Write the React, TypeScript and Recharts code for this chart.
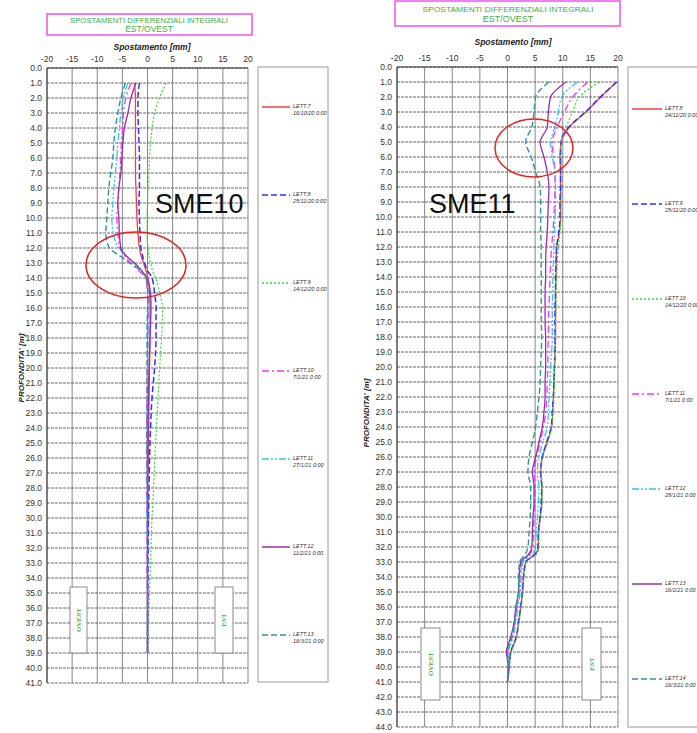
import React from 'react';
import { CartesianGrid, Line, LineChart, XAxis, YAxis } from 'recharts';

const X_TICKS = [-20, -15, -10, -5, 0, 5, 10, 15, 20];

// SME10 - readings
const SME10_NAMES = ['LETT.7', 'LETT.8', 'LETT.9', 'LETT.10', 'LETT.11', 'LETT.12', 'LETT.13'];
const SME10_DATES = ['16/10/20 0:00', '25/11/20 0:00', '14/12/20 0:00', '7/1/21 0:00', '27/1/21 0:00', '11/2/21 0:00', '16/3/21 0:00'];
const SME10_DEPTHS = [1, 2, 3, 4, 5, 6, 7, 8, 9, 10, 11, 12, 12.5, 13, 13.5, 14, 15, 16, 18, 20, 22, 25, 28, 30, 33, 36, 39];
const SME10_LETT7 = [-2.6, -2.4, -2.4, -2.4, -2.4, -2.4, -2.4, -2.3, -2.2, -2.1, -1.9, -1.6, -1.3, -0.8, -0.3, 0.1, 0.4, 0.5, 0.5, 0.4, 0.3, 0.2, 0.1, 0.1, 0.0, 0.0, 0.0];
const SME10_LETT8 = [-1.6, -1.9, -1.9, -1.8, -1.7, -1.6, -1.6, -1.6, -1.7, -1.6, -1.5, -1.3, -1.0, -0.6, 0.0, 0.9, 1.4, 1.7, 1.7, 1.4, 0.9, 0.5, 0.3, 0.2, 0.1, 0.05, 0.0];
const SME10_LETT9 = [3.7, 2.4, 1.4, 0.9, 0.6, 0.4, 0.3, 0.1, 0.0, -0.1, -0.1, 0.1, 0.3, 0.6, 1.0, 1.6, 2.4, 3.0, 2.8, 2.4, 2.1, 1.6, 1.2, 0.9, 0.6, 0.3, 0.1];
const SME10_LETT10 = [-3.3, -4.3, -4.8, -4.9, -5.2, -5.3, -5.5, -5.7, -5.9, -6.1, -5.9, -5.5, -4.6, -3.3, -1.8, -0.4, 0.0, 0.2, 0.1, 0.0, -0.1, -0.2, -0.2, -0.1, -0.1, 0.0, 0.0];
const SME10_LETT11 = [-3.9, -4.8, -5.3, -5.6, -5.9, -6.1, -6.4, -6.7, -6.9, -7.1, -6.8, -5.7, -4.3, -2.6, -1.2, -0.3, 0.0, 0.1, 0.1, 0.0, 0.0, -0.1, -0.1, -0.1, 0.0, 0.0, 0.0];
const SME10_LETT12 = [-2.3, -3.3, -3.9, -4.6, -4.9, -5.1, -5.3, -5.7, -5.9, -5.7, -5.6, -5.3, -4.3, -2.6, -1.2, -0.1, 0.6, 0.7, 0.5, 0.3, 0.2, 0.1, 0.0, 0.0, 0.0, 0.0, 0.0];
const SME10_LETT13 = [-4.4, -5.3, -5.9, -6.4, -6.7, -6.9, -7.3, -7.7, -7.9, -8.1, -8.3, -7.6, -5.6, -3.5, -1.4, -0.3, 0.1, 0.0, -0.1, -0.1, -0.1, -0.1, 0.0, 0.0, 0.0, 0.0, 0.0];

// SME11 - readings
const SME11_NAMES = ['LETT.8', 'LETT.9', 'LETT.10', 'LETT.11', 'LETT.12', 'LETT.13', 'LETT.14'];
const SME11_DATES = ['24/11/20 0:00', '25/11/20 0:00', '14/12/20 0:00', '7/1/21 0:00', '28/1/21 0:00', '16/2/21 0:00', '16/3/21 0:00'];
const SME11_DEPTHS = [1, 2, 3, 4, 5, 6, 7, 8, 9, 10, 11, 12, 13, 14, 15, 16, 17, 18, 19, 20, 21, 22, 23, 24, 25, 26, 27, 28, 29, 30, 31, 32, 32.5, 33, 34, 35, 36, 37, 38, 39, 40, 41];
const SME11_LETT8 = [19.7, 16.9, 14.2, 11.2, 9.7, 9.5, 9.6, 9.6, 9.6, 9.6, 9.4, 8.9, 8.8, 8.8, 8.7, 8.7, 8.7, 8.7, 8.6, 8.5, 8.4, 8.3, 8.2, 8.0, 7.2, 6.3, 6.0, 6.2, 6.2, 5.9, 5.6, 5.6, 5.0, 3.3, 2.9, 2.7, 2.4, 2.0, 1.6, 0.6, 0.3, 0.0];
const SME11_LETT9 = [19.8, 16.8, 14.1, 11.1, 9.7, 9.6, 9.6, 9.6, 9.5, 9.5, 9.3, 8.9, 8.8, 8.7, 8.7, 8.6, 8.6, 8.6, 8.6, 8.5, 8.4, 8.3, 8.1, 7.9, 7.1, 6.3, 6.0, 6.2, 6.1, 5.9, 5.6, 5.5, 4.9, 3.3, 2.9, 2.7, 2.4, 2.0, 1.6, 0.6, 0.3, 0.0];
const SME11_LETT10 = [16.6, 13.0, 11.8, 10.6, 9.7, 9.7, 9.8, 9.8, 9.7, 9.7, 9.5, 9.2, 9.0, 8.9, 8.8, 8.8, 8.7, 8.7, 8.6, 8.5, 8.5, 8.4, 8.2, 8.0, 7.3, 6.4, 6.1, 6.3, 6.3, 6.0, 5.7, 5.7, 5.2, 3.5, 3.0, 2.8, 2.5, 2.1, 1.7, 0.7, 0.3, 0.0];
const SME11_LETT11 = [14.5, 11.8, 10.3, 9.0, 8.1, 8.3, 8.6, 8.6, 8.5, 8.4, 8.2, 8.0, 7.8, 7.7, 7.6, 7.5, 7.4, 7.4, 7.3, 7.3, 7.2, 7.1, 6.9, 6.5, 5.9, 5.3, 4.8, 5.0, 5.0, 4.8, 4.7, 4.6, 4.0, 2.6, 2.3, 2.1, 1.7, 1.3, 0.8, 0.0, 0.2, 0.0];
const SME11_LETT12 = [12.7, 9.8, 9.2, 8.6, 7.8, 8.1, 8.6, 8.7, 8.7, 8.6, 8.5, 8.4, 8.3, 8.2, 8.2, 8.1, 8.1, 8.1, 8.0, 7.8, 7.7, 7.5, 7.4, 7.2, 6.4, 5.7, 5.4, 5.7, 5.6, 5.4, 5.2, 5.1, 4.4, 2.8, 2.5, 2.3, 1.9, 1.5, 1.0, 0.2, 0.2, 0.0];
const SME11_LETT13 = [10.6, 7.8, 7.4, 7.2, 5.9, 6.6, 7.2, 7.5, 7.4, 7.3, 7.2, 7.0, 6.9, 6.9, 6.8, 6.8, 6.8, 6.9, 6.9, 6.9, 6.8, 6.8, 6.6, 6.3, 5.7, 5.1, 4.5, 4.8, 4.8, 4.6, 4.5, 4.4, 3.8, 2.4, 2.1, 2.0, 1.5, 1.2, 0.6, -0.2, 0.2, 0.0];
const SME11_LETT14 = [7.5, 5.1, 4.8, 4.4, 3.3, 4.3, 5.1, 5.9, 6.0, 6.0, 6.0, 6.1, 6.1, 6.1, 6.1, 6.1, 6.1, 6.2, 6.1, 6.0, 5.9, 5.7, 5.4, 5.1, 4.5, 3.9, 3.7, 4.2, 4.2, 4.1, 3.9, 3.7, 3.2, 2.2, 2.0, 2.0, 1.6, 1.3, 0.8, 0.0, 0.2, 0.0];

const SERIES_STYLES = [
  { stroke: '#ff3b3b', dash: undefined, width: 1.3 },
  { stroke: '#3030ff', dash: '6 3', width: 1.5 },
  { stroke: '#2ee02e', dash: '2 2', width: 1.2 },
  { stroke: '#ff30ff', dash: '7 3 2 3', width: 1.3 },
  { stroke: '#30c8f0', dash: '7 2 2 2 2 2', width: 1.3 },
  { stroke: '#9a2fa8', dash: undefined, width: 1.3 },
  { stroke: '#2f9595', dash: '6 3', width: 1.4 },
];

const FONT = '"Liberation Sans", Arial, sans-serif';
const TITLE_GREEN = '#3fae3f';

function buildRows(depths: number[], series: number[][]) {
  return depths.map((depth, i) => {
    const row: Record<string, number> = { depth };
    series.forEach((s, k) => {
      row['s' + k] = s[i];
    });
    return row;
  });
}

function range(n: number) {
  return Array.from({ length: n + 1 }, (_, i) => i);
}

type ProfileProps = {
  width: number;
  height: number;
  margin: { top: number; right: number; bottom: number; left: number };
  maxDepth: number;
  rows: Record<string, number>[];
  count: number;
};

function ProfileChart({ width, height, margin, maxDepth, rows, count }: ProfileProps) {
  const tick = { fontSize: 8.5, fill: '#333', fontFamily: FONT };
  return (
    <LineChart layout="vertical" width={width} height={height} data={rows} margin={margin}>
      <CartesianGrid horizontal={false} stroke="#7a7a7a" strokeWidth={0.9} />
      <CartesianGrid vertical={false} stroke="#5a5a5a" strokeDasharray="3 1" strokeWidth={0.9} />
      <XAxis
        type="number"
        orientation="top"
        domain={[-20, 20]}
        ticks={X_TICKS}
        height={14}
        tickLine={false}
        tickSize={4}
        tickMargin={2}
        axisLine={{ stroke: '#333' }}
        tick={tick}
        interval={0}
      />
      <YAxis
        type="number"
        dataKey="depth"
        domain={[0, maxDepth]}
        ticks={range(maxDepth)}
        width={30}
        tickLine={false}
        tickSize={3}
        tickMargin={2}
        axisLine={{ stroke: '#333' }}
        tick={tick}
        interval={0}
        tickFormatter={(v: number) => v.toFixed(1)}
      />
      {SERIES_STYLES.slice(0, count).map((st, k) => (
        <Line
          key={k}
          dataKey={'s' + k}
          type="monotone"
          stroke={st.stroke}
          strokeDasharray={st.dash}
          strokeWidth={st.width}
          dot={false}
          isAnimationActive={false}
        />
      ))}
    </LineChart>
  );
}

type LegendProps = { x: number; y: number; w: number; h: number; first: number; gap: number; sample: number; names: string[]; dates: string[] };

function LegendBox({ x, y, w, h, first, gap, sample, names, dates }: LegendProps) {
  return (
    <g>
      <rect x={x} y={y} width={w} height={h} fill="#fff" stroke="#9a9a9a" strokeWidth={1} />
      {names.map((name, i) => {
        const st = SERIES_STYLES[i];
        const ly = first + i * gap;
        return (
          <g key={name}>
            <line x1={x + 4} x2={x + 4 + sample} y1={ly} y2={ly} stroke={st.stroke} strokeDasharray={st.dash} strokeWidth={st.width + 0.2} />
            <text x={x + 7 + sample} y={ly + 1} fontSize={5.5} fontStyle="italic" fontFamily={FONT} fill="#333">{name}</text>
            <text x={x + 7 + sample} y={ly + 8} fontSize={5.5} fontStyle="italic" fontFamily={FONT} fill="#333">{dates[i]}</text>
          </g>
        );
      })}
    </g>
  );
}

function SideTag({ x, y, w, h, label }: { x: number; y: number; w: number; h: number; label: string }) {
  const cx = x + w / 2;
  const cy = y + h / 2;
  return (
    <g>
      <rect x={x} y={y} width={w} height={h} fill="#fff" stroke="#8a8a8a" strokeWidth={1} />
      <text
        x={cx}
        y={cy}
        transform={`rotate(-90 ${cx} ${cy})`}
        textAnchor="middle"
        dominantBaseline="central"
        fontSize={7}
        fontWeight="bold"
        fontFamily='"Liberation Serif", serif'
        fill={TITLE_GREEN}
      >
        {label}
      </text>
    </g>
  );
}

const sme10Rows = buildRows(SME10_DEPTHS, [SME10_LETT7, SME10_LETT8, SME10_LETT9, SME10_LETT10, SME10_LETT11, SME10_LETT12, SME10_LETT13]);
const sme11Rows = buildRows(SME11_DEPTHS, [SME11_LETT8, SME11_LETT9, SME11_LETT10, SME11_LETT11, SME11_LETT12, SME11_LETT13, SME11_LETT14]);

export default function App() {
  return (
    <div style={{ position: 'absolute', left: 0, top: 0, width: 697, height: 733, background: '#fff', overflow: 'hidden' }}>
      <div style={{ position: 'absolute', left: 0, top: 0 }}>
        <ProfileChart width={260} height={700} margin={{ top: 54, right: 12, bottom: 17, left: 17 }} maxDepth={41} rows={sme10Rows} count={7} />
      </div>
      <div style={{ position: 'absolute', left: 350, top: 0 }}>
        <ProfileChart width={290} height={733} margin={{ top: 53, right: 22, bottom: 6, left: 17 }} maxDepth={44} rows={sme11Rows} count={7} />
      </div>
      <svg width={697} height={733} style={{ position: 'absolute', left: 0, top: 0, pointerEvents: 'none' }}>
        {/* left panel decorations */}
        <rect x={47} y={14} width={205} height={21} fill="none" stroke="#f050f0" strokeWidth={1.5} />
        <text x={149} y={23} textAnchor="middle" fontSize={6.5} fontFamily={FONT} fill={TITLE_GREEN} textLength={158} lengthAdjust="spacingAndGlyphs">SPOSTAMENTI DIFFERENZIALI INTEGRALI</text>
        <text x={149} y={32} textAnchor="middle" fontSize={8.5} fontFamily={FONT} fill={TITLE_GREEN}>EST/OVEST</text>
        <text x={152} y={50} textAnchor="middle" fontSize={8.5} fontWeight="bold" fontStyle="italic" fontFamily={FONT} fill="#222">Spostamento  [mm]</text>
        <text x={21} y={368} transform="rotate(-90 21 368)" textAnchor="middle" dominantBaseline="central" fontSize={8} fontWeight="bold" fontStyle="italic" fontFamily={FONT} fill="#222">PROFONDITA' [m]</text>
        <SideTag x={70} y={587} w={17} h={66} label="OVEST" />
        <SideTag x={215} y={587} w={18} h={66} label="EST" />
        <text x={155} y={213} fontSize={27} fontFamily={FONT} fill="#111">SME10</text>
        <ellipse cx={136} cy={265} rx={50} ry={33} fill="none" stroke="#e52222" strokeWidth={1.5} />
        <LegendBox x={258} y={67} w={70} h={615} first={107} gap={88} sample={28} names={SME10_NAMES} dates={SME10_DATES} />

        {/* right panel decorations */}
        <rect x={395} y={1} width={225} height={25} fill="none" stroke="#f050f0" strokeWidth={1.5} />
        <text x={508} y={12} textAnchor="middle" fontSize={6.5} fontFamily={FONT} fill={TITLE_GREEN} textLength={171} lengthAdjust="spacingAndGlyphs">SPOSTAMENTI DIFFERENZIALI INTEGRALI</text>
        <text x={508} y={22} textAnchor="middle" fontSize={9} fontFamily={FONT} fill={TITLE_GREEN}>EST/OVEST</text>
        <text x={513} y={45} textAnchor="middle" fontSize={8.5} fontWeight="bold" fontStyle="italic" fontFamily={FONT} fill="#222">Spostamento  [mm]</text>
        <text x={366} y={413} transform="rotate(-90 366 413)" textAnchor="middle" dominantBaseline="central" fontSize={8} fontWeight="bold" fontStyle="italic" fontFamily={FONT} fill="#222">PROFONDITA' [m]</text>
        <SideTag x={421} y={628} w={19} h={72} label="OVEST" />
        <SideTag x={582} y={628} w={19} h={72} label="EST" />
        <text x={429} y={213} fontSize={27} fontFamily={FONT} fill="#111">SME11</text>
        <ellipse cx={534} cy={148} rx={39} ry={29} fill="none" stroke="#e52222" strokeWidth={1.5} />
        <LegendBox x={628} y={67} w={80} h={660} first={109} gap={95} sample={30} names={SME11_NAMES} dates={SME11_DATES} />
      </svg>
    </div>
  );
}
